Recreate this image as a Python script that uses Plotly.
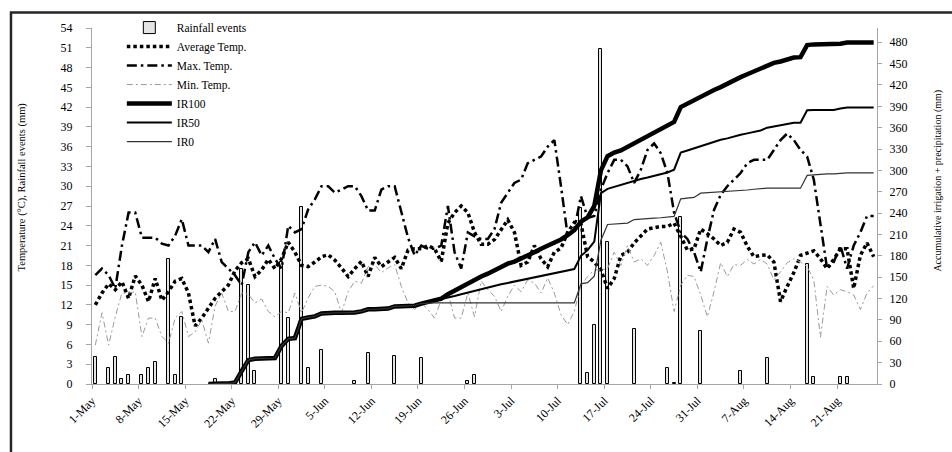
import plotly.graph_objects as go
import pandas as pd

FONT = "Liberation Serif"

# daily categories 1-May .. 26-Aug
days = pd.date_range("2015-05-01 12:00", periods=118, freq="D")

rain = [4.1, None, 2.5, 4.1, 0.8, 1.4, None, 1.4, 2.5, 3.4,
        None, 19.0, 1.4, 10.1, None, None, None, None, 0.8, None,
        None, None, 17.5, 15.0, 1.9, None, None, None, 18.5, 10.0,
        None, 26.9, 2.4, None, 5.2, None, None, None, None, 0.5,
        None, 4.7, None, None, None, 4.2, None, None, None, 3.9,
        None, None, None, None, None, None, 0.5, 1.3, None, None,
        None, None, None, None, None, None, None, None, None, None,
        None, None, None, 26.7, 1.7, 8.9, 50.8, 21.5, None, None,
        None, 8.3, None, None, None, None, 2.4, 0.2, 25.4, None,
        None, 8.0, None, None, None, None, None, 1.9, None, None,
        None, 3.9, None, None, None, None, None, 18.2, 1.1, None,
        None, None, 1.1, 1.1, None, None, None, None]

avg_temp = [12.0, 13.8, 15.2, 14.3, 15.5, 13.0, 16.4, 15.0, 12.5, 16.0,
            12.7, 14.0, 15.6, 16.0, 13.8, 8.8, 10.0, 11.5, 13.0, 14.0,
            15.0, 17.2, 18.4, 19.0, 16.3, 17.3, 18.9, 17.5, 19.0, 21.5,
            20.0, 18.0, 17.8, 18.5, 19.3, 19.6, 18.8, 17.6, 16.3, 17.5,
            18.6, 16.3, 19.2, 17.8, 18.5, 19.2, 17.5, 20.3, 20.5, 20.5,
            21.0, 20.5, 18.6, 24.4, 26.0, 27.0, 26.0, 23.0, 21.2, 21.2,
            21.9, 23.5, 24.9, 23.0, 18.0, 18.5, 21.0, 19.0, 17.8, 20.0,
            20.6, 23.0, 24.5, 24.3, 19.3, 18.5, 17.3, 14.5, 16.0, 19.5,
            20.0, 21.4, 22.5, 23.5, 23.7, 23.9, 23.9, 24.4, 22.4, 20.3,
            20.5, 23.5, 22.8, 22.0, 21.0, 21.5, 23.5, 23.0, 20.9, 19.3,
            19.5, 19.6, 18.5, 12.5, 14.8, 16.9, 19.5, 19.8, 20.2, 19.0,
            17.5, 18.9, 20.5, 20.5, 14.5, 19.5, 21.4, 19.3]

max_temp = [16.5, 17.5, 16.5, 14.5, 21.0, 26.0, 26.0, 22.2, 22.2, 22.2,
            21.3, 21.0, 22.5, 25.0, 21.0, 21.0, 21.0, 20.0, 22.0, 18.5,
            17.5, 16.5, 15.0, 20.0, 21.5, 19.5, 21.0, 19.0, 17.5, 24.0,
            23.0, 23.5, 26.5, 28.0, 30.0, 30.0, 29.0, 29.5, 30.0, 30.0,
            28.5, 26.3, 26.3, 29.5, 30.0, 30.0, 26.0, 22.2, 19.5, 21.0,
            20.5, 20.5, 21.0, 27.0, 20.0, 17.5, 23.0, 22.4, 22.0, 22.0,
            23.5, 27.5, 29.0, 30.5, 31.0, 33.5, 34.0, 34.5, 36.0, 37.0,
            30.0, 22.5, 23.5, 28.5, 25.2, 25.5, 29.5, 32.0, 34.0, 34.0,
            33.0, 30.5, 32.5, 35.5, 36.5, 35.0, 32.0, 26.0, 23.0, 22.0,
            20.0, 17.0, 22.0, 26.4, 28.7, 30.0, 31.0, 32.0, 33.5, 34.0,
            34.0, 34.0, 35.5, 37.0, 38.0, 37.0, 35.5, 34.5, 31.0, 24.0,
            17.5, 18.5, 21.0, 17.5, 21.0, 23.0, 25.5, 25.5]

min_temp = [5.9, 10.8, 5.9, 10.2, 13.8, 13.8, 14.0, 7.2, 10.0, 10.0,
            7.2, 6.2, 10.0, 11.0, 7.2, 7.9, 9.7, 6.2, 11.8, 13.8,
            11.0, 11.0, 13.8, 13.6, 12.3, 12.9, 11.0, 10.2, 11.0, 10.8,
            13.8, 10.8, 13.1, 14.8, 15.0, 14.8, 14.0, 10.8, 14.0, 15.6,
            15.3, 17.8, 18.1, 16.9, 17.6, 18.1, 14.8, 12.3, 11.3, 12.3,
            11.3, 10.0, 12.8, 13.8, 10.0, 10.0, 13.8, 10.2, 15.6, 14.3,
            13.3, 11.0, 13.3, 15.0, 14.0, 15.8, 15.3, 13.8, 16.1, 13.8,
            10.5, 9.0, 11.0, 15.0, 16.3, 17.3, 17.3, 17.5, 20.0, 18.0,
            21.0, 18.5, 19.0, 18.0, 19.5, 21.5, 17.0, 11.0, 15.0, 16.5,
            16.3, 13.5, 10.2, 14.0, 18.4, 16.3, 18.1, 18.0, 18.9, 18.2,
            18.9, 18.2, 15.8, 17.0, 18.4, 19.0, 18.5, 17.8, 15.8, 7.1,
            14.8, 13.5, 14.3, 14.0, 13.5, 11.3, 13.8, 14.9]

ir100 = [None, None, None, None, None, None, None, None, None, None,
         None, None, None, None, None, None, None, 0.0, 0.8, 0.8,
         0.8, 2.0, 18.0, 33.5, 35.5, 36.0, 36.0, 36.5, 53.5, 63.5,
         64.5, 91.5, 93.5, 95.0, 99.0, 100.0, 100.0, 100.0, 100.0, 100.5,
         102.0, 105.0, 105.0, 106.0, 106.0, 109.0, 109.5, 109.5, 110.0, 113.0,
         115.0, 116.5, 120.0, 126.0, 131.0, 137.0, 142.0, 147.0, 151.0, 155.0,
         160.0, 164.0, 169.0, 172.0, 176.0, 181.0, 185.0, 190.0, 194.0, 198.0,
         203.0, 209.0, 216.0, 228.0, 234.0, 250.0, 300.0, 320.0, 325.0, 328.0,
         333.0, 339.0, 343.0, 348.0, 354.0, 359.0, 364.0, 368.0, 389.0, 394.0,
         398.0, 403.0, 408.0, 413.0, 417.0, 422.0, 427.0, 431.0, 435.0, 439.0,
         443.0, 447.0, 451.0, 453.0, 456.0, 458.5, 459.0, 476.0, 477.0, 477.0,
         477.0, 477.0, 478.0, 479.5, 479.5, 479.5, 479.5, 479.5]

ir50 = [None, None, None, None, None, None, None, None, None, None,
        None, None, None, None, None, None, None, 0.0, 0.8, 0.8,
        0.8, 2.0, 18.0, 33.5, 35.5, 36.0, 36.0, 36.5, 53.5, 63.5,
        64.5, 91.5, 93.5, 95.0, 99.0, 100.0, 100.0, 100.0, 100.0, 100.5,
        102.0, 105.0, 105.0, 106.0, 106.0, 109.0, 109.5, 109.5, 110.0, 113.0,
        115.0, 116.5, 118.5, 121.0, 123.5, 126.0, 128.5, 131.0, 133.0, 135.0,
        137.5, 140.0, 142.0, 144.0, 146.0, 148.0, 150.0, 152.0, 154.0, 155.5,
        157.5, 159.5, 161.5, 180.0, 188.0, 200.0, 268.0, 274.0, 277.0, 280.0,
        282.0, 285.0, 288.0, 290.0, 292.0, 295.0, 297.0, 301.0, 325.0, 328.0,
        331.0, 335.0, 338.0, 341.0, 343.0, 345.0, 348.0, 350.0, 352.0, 354.0,
        356.0, 360.0, 362.0, 364.0, 366.0, 367.0, 367.0, 384.5, 385.0, 385.0,
        385.0, 385.0, 387.0, 388.5, 388.5, 388.5, 388.5, 388.5]

ir0 = [None, None, None, None, None, None, None, None, None, None,
       None, None, None, None, None, None, None, 0.0, 0.8, 0.8,
       0.8, 2.0, 18.0, 33.5, 35.5, 36.0, 36.0, 36.5, 53.5, 63.5,
       64.5, 91.5, 93.5, 95.0, 99.0, 100.0, 100.0, 100.0, 100.0, 100.5,
       102.0, 105.0, 105.0, 106.0, 106.0, 109.0, 109.5, 109.5, 110.0, 113.0,
       114.0, 114.0, 114.0, 114.0, 114.0, 114.0, 114.0, 114.0, 114.0, 114.0,
       114.0, 114.0, 114.0, 114.0, 114.0, 114.0, 114.0, 114.0, 114.0, 114.0,
       114.0, 114.0, 114.0, 140.7, 142.4, 151.3, 202.0, 224.0, 225.0, 225.5,
       226.0, 231.0, 232.0, 232.5, 233.0, 233.5, 235.0, 235.5, 260.0, 261.0,
       262.0, 268.0, 268.5, 269.0, 270.0, 270.0, 271.0, 272.0, 272.5, 273.5,
       274.5, 275.0, 275.0, 275.0, 275.0, 275.0, 275.0, 293.0, 294.0, 295.0,
       295.0, 295.0, 296.0, 296.6, 296.6, 296.6, 296.6, 296.6]

DAY_MS = 86400000

fig = go.Figure()
fig.add_trace(go.Bar(x=days, y=rain, name="Rainfall events", width=0.45 * DAY_MS,
                     marker=dict(color="#e4e4e4", line=dict(color="black", width=1))))
fig.add_trace(go.Scatter(x=days, y=avg_temp, name="Average Temp.", mode="lines",
                         line=dict(color="black", width=3.5, dash="3.5px,3px")))
fig.add_trace(go.Scatter(x=days, y=max_temp, name="Max. Temp.", mode="lines",
                         line=dict(color="black", width=2.5, dash="10px,4px,2.5px,4px")))
fig.add_trace(go.Scatter(x=days, y=min_temp, name="Min. Temp.", mode="lines",
                         line=dict(color="#9a9a9a", width=1, dash="6px,3px,2px,3px")))
fig.add_trace(go.Scatter(x=days, y=ir100, name="IR100", mode="lines", yaxis="y2",
                         line=dict(color="black", width=4.5)))
fig.add_trace(go.Scatter(x=days, y=ir50, name="IR50", mode="lines", yaxis="y2",
                         line=dict(color="black", width=2)))
fig.add_trace(go.Scatter(x=days, y=ir0, name="IR0", mode="lines", yaxis="y2",
                         line=dict(color="#333333", width=1.2)))

axis_grey = "#a6a6a6"
tickfont = dict(family=FONT, size=12, color="black")

fig.update_layout(
    width=952, height=452,
    margin=dict(l=92, r=75, t=28, b=68, autoexpand=False),
    paper_bgcolor="white", plot_bgcolor="white",
    font=dict(family=FONT, size=11, color="black"),
    showlegend=True,
    legend=dict(x=0.038, y=1.042, xanchor="left", yanchor="top",
                bgcolor="rgba(0,0,0,0)", font=dict(family=FONT, size=11.5),
                traceorder="normal", tracegroupgap=0, itemwidth=45),
    bargap=0,
    xaxis=dict(type="date", range=["2015-05-01", "2015-08-27"],
               tick0="2015-05-01", dtick=7 * DAY_MS, tickformat="%-d-%b",
               tickangle=-45, ticks="outside", ticklen=4, tickcolor=axis_grey,
               showline=True, linecolor=axis_grey, linewidth=1,
               showgrid=False, zeroline=False, tickfont=tickfont),
    yaxis=dict(range=[0, 54], tick0=0, dtick=3, ticks="outside", ticklen=5,
               tickcolor=axis_grey, showline=True, linecolor=axis_grey,
               showgrid=False, zeroline=False, tickfont=tickfont,
               ticklabelstandoff=11),
    yaxis2=dict(range=[0, 500], tick0=0, dtick=30, overlaying="y", side="right",
                ticks="outside", ticklen=4, tickcolor=axis_grey, showline=True,
                linecolor=axis_grey, showgrid=False, zeroline=False,
                tickfont=tickfont, ticklabelstandoff=5),
)

fig.add_annotation(text="Temperature (°C), Rainfall events (mm)", textangle=-90,
                   xref="paper", yref="paper", x=-0.0892, y=0.555,
                   xanchor="center", yanchor="middle", showarrow=False,
                   font=dict(family=FONT, size=10.5))
fig.add_annotation(text="Accumulative irrigation + precipitation (mm)", textangle=-90,
                   xref="paper", yref="paper", x=1.078, y=0.572,
                   xanchor="center", yanchor="middle", showarrow=False,
                   font=dict(family=FONT, size=10))

fig.add_shape(type="rect", xref="paper", yref="paper",
              x0=-0.1032, y0=-0.25, x1=1.12, y1=1.0433,
              line=dict(color="#262626", width=2.5), fillcolor="rgba(0,0,0,0)")

fig.write_html("out.html", config={"displayModeBar": False},
               post_script="document.body.style.margin='0px';document.body.style.overflow='hidden';")
